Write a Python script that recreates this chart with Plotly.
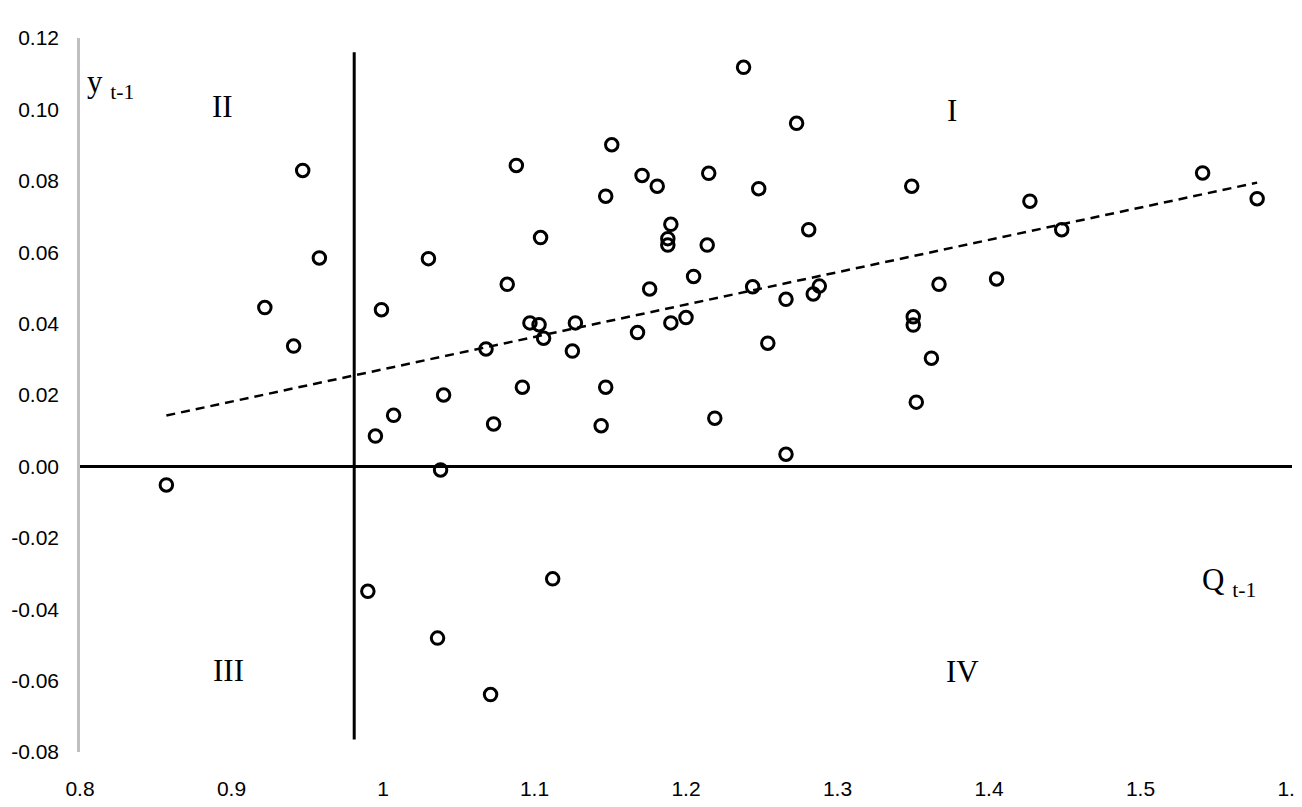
import numpy as np
import plotly.graph_objects as go

# Q_{t-1} (x) and y_{t-1} (y) values
q_values = [0.857, 0.922, 0.941, 0.947, 0.958, 0.990, 0.995, 0.999, 1.007, 1.030,
            1.038, 1.040, 1.036, 1.068, 1.073, 1.071, 1.082, 1.088, 1.092, 1.097,
            1.103, 1.104, 1.106, 1.112, 1.125, 1.127, 1.144, 1.147, 1.147, 1.151,
            1.168, 1.171, 1.176, 1.181, 1.188, 1.188, 1.190, 1.190, 1.200, 1.205,
            1.214, 1.215, 1.219, 1.238, 1.244, 1.248, 1.254, 1.266, 1.266, 1.273,
            1.281, 1.284, 1.288, 1.349, 1.350, 1.350, 1.352, 1.362, 1.367, 1.405,
            1.427, 1.448, 1.541, 1.577]
y_values = [-0.0052, 0.0445, 0.0337, 0.0829, 0.0584, -0.0350, 0.0085, 0.0439, 0.0143, 0.0582,
            -0.0010, 0.0200, -0.0481, 0.0329, 0.0119, -0.0639, 0.0510, 0.0843, 0.0222, 0.0402,
            0.0397, 0.0641, 0.0359, -0.0315, 0.0323, 0.0402, 0.0114, 0.0757, 0.0222, 0.0901,
            0.0375, 0.0815, 0.0497, 0.0785, 0.0638, 0.0620, 0.0678, 0.0402, 0.0417, 0.0532,
            0.0620, 0.0821, 0.0135, 0.1118, 0.0503, 0.0778, 0.0345, 0.0468, 0.0034, 0.0961,
            0.0663, 0.0483, 0.0505, 0.0785, 0.0419, 0.0396, 0.0180, 0.0303, 0.0510, 0.0525,
            0.0743, 0.0663, 0.0822, 0.0750]

x_ticks = [0.8, 0.9, 1.0, 1.1, 1.2, 1.3, 1.4, 1.5, 1.6]
x_tick_labels = ["0.8", "0.9", "1", "1.1", "1.2", "1.3", "1.4", "1.5", "1.6"]
y_ticks = [-0.08, -0.06, -0.04, -0.02, 0.0, 0.02, 0.04, 0.06, 0.08, 0.10, 0.12]
y_tick_labels = ["-0.08", "-0.06", "-0.04", "-0.02", "0.00", "0.02", "0.04", "0.06", "0.08", "0.10", "0.12"]

quadrant_x = 0.981
quadrant_labels = ["I", "II", "III", "IV"]
quadrant_pos = [(1.3756, 0.0997), (0.894, 0.1008), (0.8977, -0.0572), (1.3828, -0.0575)]

# Linear trend line fitted to the data
slope, intercept = np.polyfit(q_values, y_values, 1)
trend_x = [min(q_values), max(q_values)]
trend_y = [slope * v + intercept for v in trend_x]

tick_font = dict(family="Liberation Sans Narrow, Liberation Sans, Arial, sans-serif",
                 size=21, color="black")
serif = dict(family="Liberation Serif, Times New Roman, serif", size=31, color="black")

fig = go.Figure()
fig.add_trace(go.Scatter(x=trend_x, y=trend_y, mode="lines",
                         line=dict(color="black", width=2.5, dash="9px,6px"),
                         hoverinfo="skip", showlegend=False))
fig.add_trace(go.Scatter(x=q_values, y=y_values, mode="markers",
                         marker=dict(symbol="circle-open", size=12.5, color="black",
                                     line=dict(width=3, color="black")),
                         showlegend=False))

# vertical quadrant divider
fig.add_shape(type="line", x0=quadrant_x, x1=quadrant_x, y0=-0.0765, y1=0.116,
              xref="x", yref="y", line=dict(color="black", width=3), layer="below")

for lab, (px, py) in zip(quadrant_labels, quadrant_pos):
    fig.add_annotation(x=px, y=py, text=lab, showarrow=False, font=serif,
                       xanchor="center", yanchor="middle")

fig.add_annotation(x=0.803, y=0.1072, text="y <sub>t-1</sub>", showarrow=False,
                   font=serif, xanchor="left", yanchor="middle")
fig.add_annotation(x=1.539, y=-0.0325, text="Q <sub>t-1</sub>", showarrow=False,
                   font=serif, xanchor="left", yanchor="middle")

# the page adds an 8px body margin, so the figure is sized/margined to compensate
fig.update_layout(
    width=1294, height=799,
    margin=dict(l=72, r=10, t=30, b=55),
    paper_bgcolor="white", plot_bgcolor="white",
    xaxis=dict(range=[0.8, 1.6], tickvals=x_ticks, ticktext=x_tick_labels,
               showgrid=False, zeroline=False, showline=False, ticks="",
               tickfont=tick_font, ticklabelstandoff=22, automargin=False,
               ticklabeloverflow="allow"),
    yaxis=dict(range=[-0.08, 0.12], tickvals=y_ticks, ticktext=y_tick_labels,
               showgrid=False, zeroline=True, zerolinecolor="black", zerolinewidth=3,
               showline=True, linecolor="#BFBFBF", linewidth=2.5, ticks="",
               tickfont=tick_font, ticklabelstandoff=14, automargin=False),
)

fig.write_html("out.html")
